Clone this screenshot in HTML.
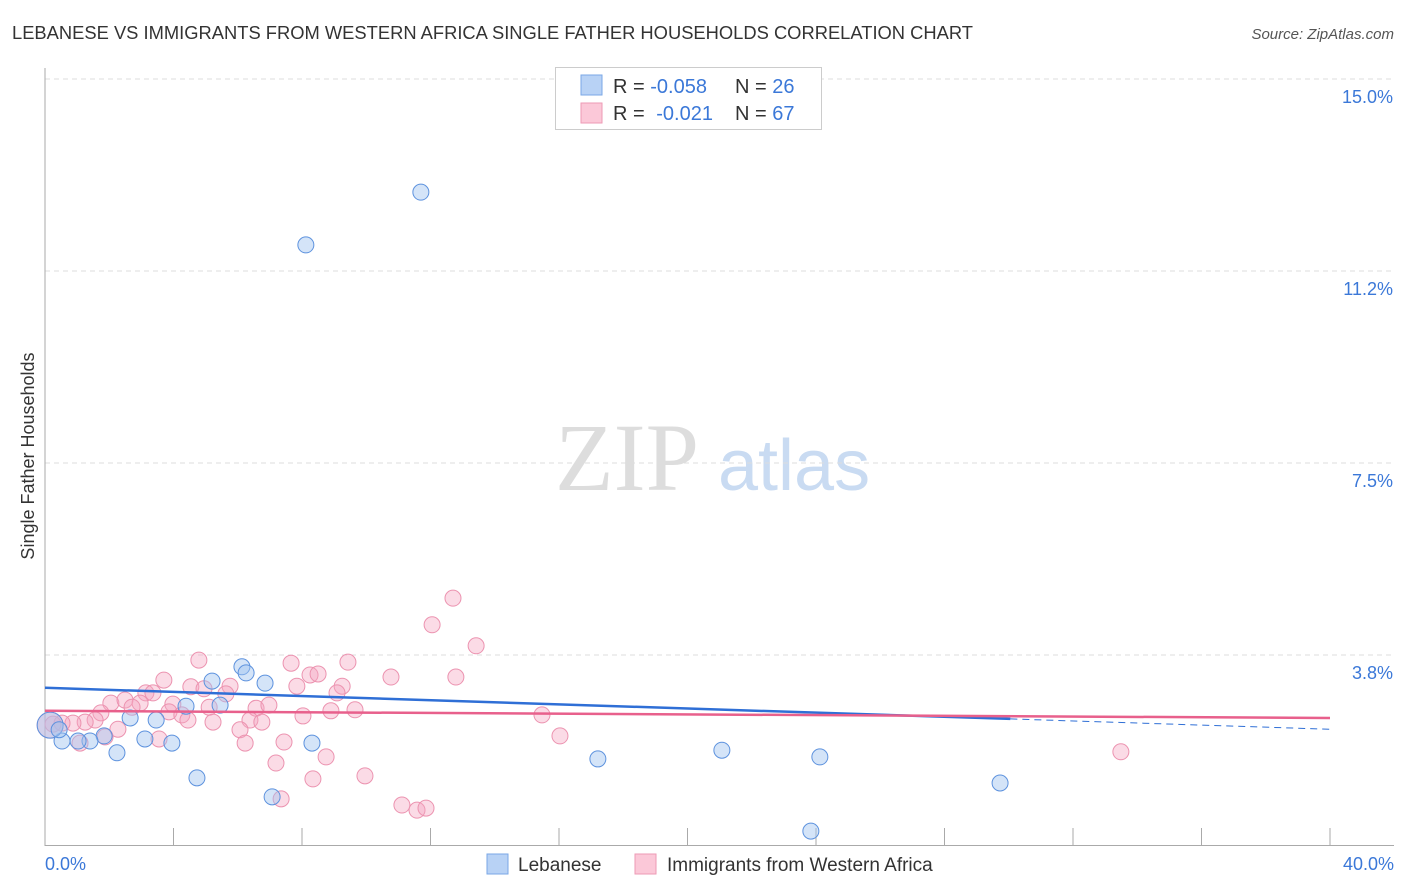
<!DOCTYPE html>
<html><head><meta charset="utf-8"><style>
body{margin:0;background:#fff;font-family:"Liberation Sans",sans-serif}
</style></head><body>
<svg id="chart" width="1406" height="892" style="display:block">
<text x="12" y="39" font-size="18" fill="#333" textLength="961" lengthAdjust="spacingAndGlyphs">LEBANESE VS IMMIGRANTS FROM WESTERN AFRICA SINGLE FATHER HOUSEHOLDS CORRELATION CHART</text>
<text x="1394" y="39" font-size="15" fill="#555" font-style="italic" text-anchor="end">Source: ZipAtlas.com</text>
<text x="34" y="456" font-size="18" fill="#333" text-anchor="middle" transform="rotate(-90 34 456)">Single Father Households</text>
<g><text x="555" y="490" font-size="96" font-family="Liberation Serif,serif" fill="#ddd">ZIP</text><text x="718" y="490" font-size="72" fill="#c9dbf2">atlas</text></g>
<g id="grid"></g><g id="axes"></g><g id="pts"></g><g id="lines"></g>
<g>
<rect x="555.5" y="67.5" width="266" height="62" fill="#fff" stroke="#ccc"/>
<rect x="581" y="75" width="21" height="20" fill="#b8d2f5" stroke="#7aa7e6"/>
<rect x="581" y="103" width="21" height="20" fill="#fbc8d8" stroke="#ee9ab5"/>
<text x="613" y="93" font-size="20" fill="#333">R = <tspan fill="#3b78d8">-0.058</tspan></text>
<text x="735" y="93" font-size="20" fill="#333">N = <tspan fill="#3b78d8">26</tspan></text>
<text x="613" y="120" font-size="20" fill="#333">R = <tspan fill="#3b78d8" dx="6">-0.021</tspan></text>
<text x="735" y="120" font-size="20" fill="#333">N = <tspan fill="#3b78d8">67</tspan></text>
</g>
<g>
<rect x="487" y="854" width="21" height="20" fill="#b8d2f5" stroke="#7aa7e6"/>
<text x="518" y="871" font-size="19" fill="#333">Lebanese</text>
<rect x="635" y="854" width="21" height="20" fill="#fbc8d8" stroke="#ee9ab5"/>
<text x="667" y="871" font-size="19" fill="#333">Immigrants from Western Africa</text>
</g>
</svg>
<script>
const yTicks=[15,11.25,7.5,3.75];
const yTickLabels=["15.0%","11.2%","7.5%","3.8%"];
const xTickLabels=["0.0%","40.0%"];
const blueX=[11.70,8.12,6.13,6.26,6.85,5.20,4.39,5.45,3.46,2.65,1.84,0.53,1.40,1.03,3.11,3.95,2.24,0.16,0.44,8.31,4.73,7.07,17.21,21.07,24.12,29.73,23.84];
const blueY=[12.79,11.76,3.52,3.40,3.20,3.24,2.75,2.77,2.48,2.52,2.17,2.07,2.07,2.07,2.11,2.03,1.84,2.38,2.29,2.03,1.35,0.98,1.72,1.89,1.76,1.25,0.31];
const pinkX=[12.70,12.05,13.42,12.79,10.77,9.43,7.66,8.25,8.50,4.79,5.76,3.70,4.54,4.95,5.63,3.14,3.36,7.84,9.25,9.09,2.05,2.49,2.96,2.71,1.74,3.98,3.86,4.26,4.45,5.11,6.57,6.97,6.38,6.75,5.23,8.03,8.90,9.65,1.56,1.25,0.87,0.53,0.25,2.27,6.07,6.23,3.55,1.09,1.87,7.44,8.75,7.19,8.34,9.96,7.35,11.11,11.58,11.86,15.47,16.03,33.49,0.16];
const pinkY=[4.86,4.34,3.93,3.32,3.32,3.61,3.59,3.36,3.38,3.65,3.14,3.26,3.13,3.09,2.99,3.01,3.01,3.14,3.14,3.01,2.81,2.87,2.81,2.73,2.62,2.79,2.64,2.58,2.48,2.73,2.71,2.77,2.48,2.44,2.44,2.56,2.66,2.68,2.48,2.44,2.42,2.42,2.40,2.30,2.29,2.03,2.11,2.03,2.15,2.05,1.76,1.64,1.33,1.39,0.94,0.82,0.72,0.76,2.58,2.17,1.86,2.38];
const blueTrend=[3.11,2.30];
const pinkTrend=[2.66,2.52];
const NS="http://www.w3.org/2000/svg";
const X=v=>45+v*32.125, Y=v=>847-v*51.2;
function mk(t,a,p){const e=document.createElementNS(NS,t);for(const k in a)e.setAttribute(k,a[k]);document.getElementById(p).appendChild(e);return e;}
yTicks.forEach((t,i)=>{
 const g=mk('line',{x1:45,x2:1394,y1:Y(t),y2:Y(t),stroke:'#ddd','stroke-dasharray':'5,4'},'grid');
 
 
 const l=mk('text',{x:1393,y:Y(t)+24,'font-size':18,fill:'#3b78d8','text-anchor':'end'},'axes');l.textContent=yTickLabels[i];
 
 
});
mk('line',{x1:45,x2:45,y1:68,y2:846,stroke:'#aaa'},'axes');
mk('line',{x1:45,x2:1394,y1:845.5,y2:845.5,stroke:'#aaa'},'axes');
for(let i=1;i<=10;i++){const t=mk('line',{x1:X(i*4),x2:X(i*4),y1:828,y2:845,stroke:'#aaa'},'axes');
 
 }
[[0,'start',45],[40,'end',1394]].forEach((d,i)=>{const l=mk('text',{x:d[2],y:870,'font-size':18,fill:'#3b78d8','text-anchor':d[1]},'axes');l.textContent=xTickLabels[i];
 
 });
function pts(xs,ys,fill,stroke,name){xs.forEach((x,i)=>{const big=x<0.2;const c=mk('circle',{cx:X(x),cy:Y(ys[i]),r:big?13:8,fill:fill,stroke:stroke,'stroke-width':1},'pts');
 
 });}
pts(pinkX,pinkY,'rgba(245,165,192,0.4)','#ec93b0','point-western-africa');
pts(blueX,blueY,'rgba(160,195,240,0.45)','#5d92de','point-lebanese');
const bEnd=30.05, bAt=v=>blueTrend[0]+(blueTrend[1]-blueTrend[0])*v/40;
let l1=mk('line',{x1:X(0),y1:Y(bAt(0)),x2:X(bEnd),y2:Y(bAt(bEnd)),stroke:'#2f6fd6','stroke-width':2.5},'lines');


let l2=mk('line',{x1:X(bEnd),y1:Y(bAt(bEnd)),x2:X(40),y2:Y(bAt(40)),stroke:'#2f6fd6','stroke-width':1,'stroke-dasharray':'7,5'},'lines');


let l3=mk('line',{x1:X(0),y1:Y(pinkTrend[0]),x2:X(40),y2:Y(pinkTrend[1]),stroke:'#e8608c','stroke-width':2.5},'lines');


</script>
</body></html>
